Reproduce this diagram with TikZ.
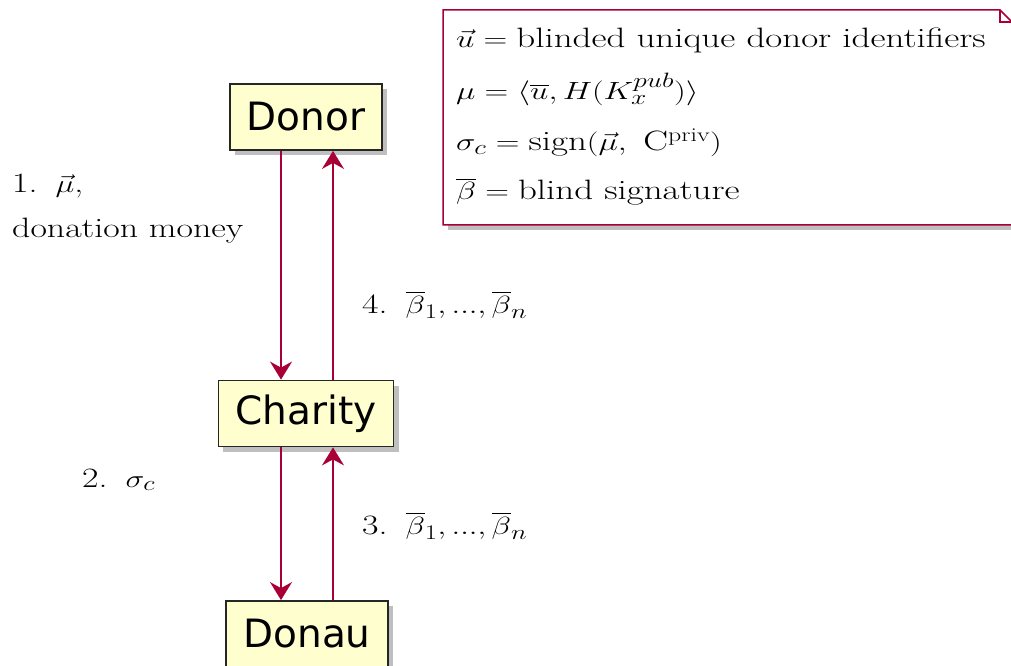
\documentclass[tikz,border=0pt]{standalone}
\usepackage{fontspec}
\usepackage{amsmath}
\usepackage{graphicx}
\newfontfamily\boxfont{DejaVu Sans}
\usetikzlibrary{arrows.meta,shadows}
\definecolor{plred}{HTML}{A80036}
\definecolor{plfill}{HTML}{FEFECE}
\tikzset{
  entity/.style={draw=black!85, line width=1.8pt, fill=plfill,
    font=\boxfont\fontsize{39}{46}\selectfont,
    minimum height=66pt, inner xsep=17pt, inner ysep=0pt,
    drop shadow={shadow xshift=5pt, shadow yshift=-5pt, fill=black!50, opacity=0.5}},
  msg/.style={draw=plred, line width=1.8pt, -{Stealth[length=18pt,width=22pt,inset=6pt]}},
  lbl/.style={anchor=base west, inner sep=0pt, font=\fontsize{28}{32}\selectfont},
  notebox/.style={draw=plred, line width=1.5pt, fill=white,
    drop shadow={shadow xshift=5pt, shadow yshift=-5pt, fill=black!50, opacity=0.5}},
}
\newcommand{\sx}[1]{\scalebox{1.28}[1]{#1}}
\newcommand{\nx}[1]{\scalebox{1.32}[1]{#1}}
\begin{document}
\begin{tikzpicture}[x=1pt,y=1pt]
\useasboundingbox (0,0) rectangle (1011,665);
% coordinates for the two connector columns
\coordinate (xl) at (281,0);
\coordinate (xr) at (333,0);
% entities
\node[entity] (donor)   at (306,548)   {Donor};
\node[entity] (charity) at (306,251.5) {Charity};
\node[entity] (donau)   at (307,31)    {Donau};
% connectors
\draw[msg] (donor.south -| xl) -- (charity.north -| xl);
\draw[msg] (charity.north -| xr) -- (donor.south -| xr);
\draw[msg] (charity.south -| xl) -- (donau.north -| xl);
\draw[msg] (donau.north -| xr) -- (charity.south -| xr);
% labels
\node[lbl] (l1a) at (12,472) {\sx{1.\enspace$\vec{\mu}$,}};
\node[lbl] (l1b) at (12,427) {\sx{donation money}};
\node[lbl] (l4)  at (362,352) {\sx{4.\enspace$\overline{\beta}_1, ..., \overline{\beta}_n$}};
\node[lbl] (l2)  at (82,178)  {\sx{2.\enspace$\sigma_c$}};
\node[lbl] (l3)  at (362,131) {\sx{3.\enspace$\overline{\beta}_1, ..., \overline{\beta}_n$}};
% note
\path[notebox] (443,655) -- (1000,655) -- (1012,643) -- (1012,440) -- (443,440) -- cycle;
\draw[plred, line width=1.2pt] (1000,655) -- (1000,643) -- (1012,643);
\node[lbl] (n1) at (456,617) {\nx{$\vec{u} = \text{blinded unique donor identifiers}$}};
\node[lbl] (n2) at (456,565) {\nx{$\mu = \langle \overline{u}, H(K_x^{pub})\rangle$}};
\node[lbl] (n3) at (456,514) {\nx{$\sigma_c = \mathrm{sign}(\vec{\mu},\ \mathrm{C}^{\mathrm{priv}})$}};
\node[lbl] (n4) at (456,465) {\nx{$\overline{\beta} = \text{blind signature}$}};
\end{tikzpicture}
\end{document}
